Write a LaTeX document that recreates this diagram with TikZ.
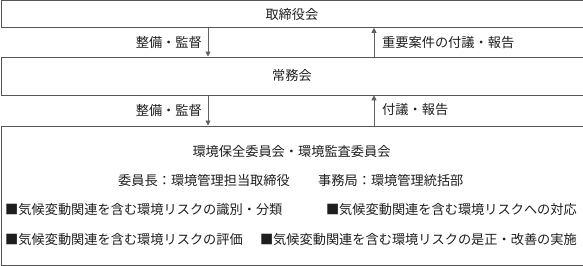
\documentclass[tikz,border=0pt]{standalone}
\usepackage{fontspec}
\setmainfont{Noto Sans CJK JP}
\usetikzlibrary{arrows.meta}
\definecolor{boxgray}{HTML}{555555}
\definecolor{linegray}{HTML}{606060}
\definecolor{textgray}{HTML}{1E1E1E}
\begin{document}
\begin{tikzpicture}[x=1pt,y=-1pt,
  box/.style={draw=boxgray, line width=0.8pt, inner sep=0pt, minimum width=582pt, anchor=north west},
  txt/.style={font=\fontsize{13.2}{15}\selectfont, text=textgray, inner sep=0pt},
  arr/.style={draw=linegray, line width=0.8pt, -{Triangle[length=5pt,width=5pt]}}]
\useasboundingbox (0,0) rectangle (583,265);
% boxes
\node[box, txt, minimum height=26.5pt] (b1) at (0.5,0.5) {取締役会};
\node[box, txt, minimum height=38pt] (b2) at (0.5,56.5) {常務会};
\node[box, minimum height=139pt] (b3) at (0.5,125.5) {};
% arrow columns
\coordinate (dx) at (208,0);
\coordinate (ux) at (374,0);
\draw[arr] (b1.south -| dx) -- (b2.north -| dx);
\draw[arr] (b2.south -| dx) -- (b3.north -| dx);
\draw[arr] (b2.north -| ux) -- (b1.south -| ux);
\draw[arr] (b3.north -| ux) -- (b2.south -| ux);
% arrow labels
\node[txt, anchor=east] (l1) at (202,42.5) {整備・監督};
\node[txt, anchor=west] (r1) at (382,42.5) {重要案件の付議・報告};
\node[txt, anchor=east] (l2) at (202,110) {整備・監督};
\node[txt, anchor=west] (r2) at (382,110) {付議・報告};
% committee box contents
\node[txt] (t1) at (291.5,151) {環境保全委員会・環境監査委員会};
\node[txt, anchor=east] (t2a) at (290,180) {委員長：環境管理担当取締役};
\node[txt, anchor=west] (t2b) at (318,180) {事務局：環境管理統括部};
\node[txt, anchor=west] (t3a) at (5,210) {■気候変動関連を含む環境リスクの識別・分類};
\node[txt, anchor=east] (t3b) at (577,210) {■気候変動関連を含む環境リスクへの対応};
\node[txt, anchor=west] (t4a) at (5,240) {■気候変動関連を含む環境リスクの評価};
\node[txt, anchor=east] (t4b) at (577,240) {■気候変動関連を含む環境リスクの是正・改善の実施};
\end{tikzpicture}
\end{document}
